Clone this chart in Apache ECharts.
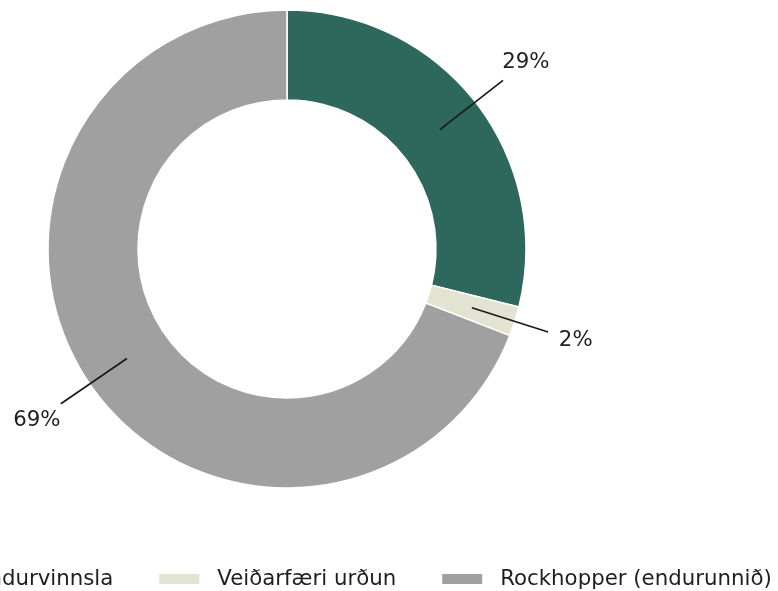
<!DOCTYPE html>
<html>
<head>
<meta charset="utf-8">
<script src="https://cdn.jsdelivr.net/npm/echarts@6/dist/echarts.min.js"></script>
<style>html,body{margin:0;padding:0;background:#fff;}#c{width:778px;height:591px;}</style>
</head>
<body>
<div id="c"></div>
<script>
const categories = ['Endurvinnsla', 'Veiðarfæri urðun', 'Rockhopper (endurunnið)'];
const values = [28.9, 2.0, 69.1];
const colors = ['#2e675c', '#e3e3d1', '#a0a0a0'];

const data = categories.map((n, i) => ({ name: n, value: values[i] }));
const fontFamily = 'DejaVu Sans';
const center = [287, 249];

const chart = echarts.init(document.getElementById('c'));
chart.setOption({
  animation: false,
  color: colors,
  legend: {
    data: categories,
    left: -85,
    top: 567,
    width: 1000,
    padding: 0,
    itemGap: 44,
    itemWidth: 42,
    itemHeight: 12,
    icon: 'rect',
    textStyle: { fontFamily, fontSize: 21.3, color: '#1f1f1f', lineHeight: 24, padding: [0, 0, 0, 12] }
  },
  series: [
    {
      type: 'pie',
      z: 2,
      center,
      radius: [149, 239],
      startAngle: 90,
      clockwise: true,
      avoidLabelOverlap: false,
      itemStyle: { borderColor: '#fff', borderWidth: 1.5 },
      label: { show: false },
      labelLine: { show: false },
      emphasis: { disabled: true },
      data
    },
    {
      type: 'pie',
      z: 10,
      center,
      radius: [193, 194],
      startAngle: 90,
      clockwise: true,
      silent: true,
      avoidLabelOverlap: false,
      itemStyle: { color: 'rgba(0,0,0,0)' },
      label: { show: true, position: 'outside', color: 'rgba(0,0,0,0)', formatter: '.', fontSize: 4 },
      labelLine: { show: true, length: 80, length2: 0, lineStyle: { color: '#1a1a1a', width: 1.7 } },
      emphasis: { disabled: true },
      data
    },
    {
      type: 'pie',
      z: 10,
      center,
      radius: [290, 310],
      startAngle: 90,
      clockwise: true,
      silent: true,
      avoidLabelOverlap: false,
      itemStyle: { color: 'rgba(0,0,0,0)' },
      label: {
        show: true,
        position: 'inside',
        fontFamily,
        fontSize: 21.3,
        color: '#1f1f1f',
        formatter: p => Math.round(p.percent) + '%'
      },
      labelLine: { show: false },
      emphasis: { disabled: true },
      data
    }
  ]
});
</script>
</body>
</html>
